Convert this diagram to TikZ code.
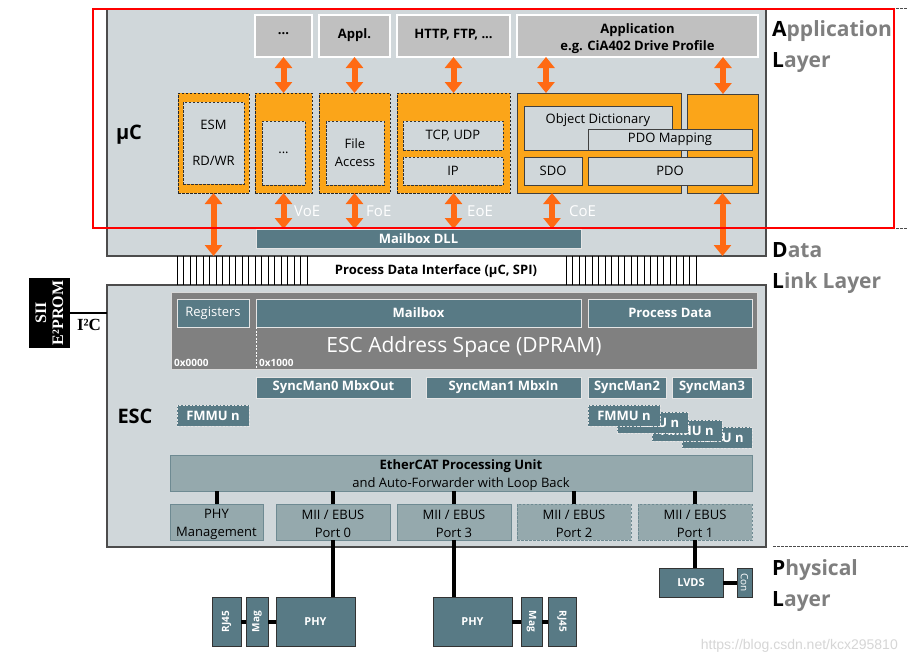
\documentclass[tikz,border=0pt]{standalone}
\usepackage{fontspec}
\setmainfont{Open Sans}
\newfontfamily\serifb{Liberation Serif}
\newfontfamily\wmfont{Liberation Sans}
\usetikzlibrary{arrows.meta}
\definecolor{panel}{HTML}{D0D7DA}
\definecolor{tealbox}{HTML}{587A85}
\definecolor{epufill}{HTML}{95A9AD}
\definecolor{epuline}{HTML}{6E8A92}
\definecolor{appgray}{HTML}{C0C0C0}
\definecolor{orfill}{HTML}{FBA519}
\definecolor{orarrow}{HTML}{FF6A13}
\definecolor{dpramgray}{HTML}{808080}
\definecolor{laygray}{HTML}{7F7F7F}
\definecolor{wmgray}{HTML}{D6D6D6}
\tikzset{
  box/.style={inner sep=0pt, outer sep=0pt, align=center},
  fa/.style={font=\fontsize{13pt}{16pt}\selectfont},
  fb/.style={font=\fontsize{13pt}{16pt}\selectfont\bfseries},
  appbox/.style={box, fill=appgray, draw=white, line width=1.2pt, fb},
  orgdash/.style={box, fill=orfill, draw=black!85, dash pattern=on 2.5pt off 1.5pt, line width=0.8pt},
  orgsolid/.style={box, fill=orfill, draw=black!75, line width=0.9pt},
  indash/.style={box, fill=panel, draw=black!80, dash pattern=on 2.5pt off 1.5pt, line width=0.8pt, fa},
  insolid/.style={box, fill=panel, draw=black!75, line width=0.9pt, fa},
  panelbox/.style={box, fill=panel, draw=black!70, line width=1.3pt},
  darkbox/.style={box, fill=tealbox, draw=white!90!black, line width=1pt, text=white, fb},
  fmmubox/.style={darkbox, dash pattern=on 2pt off 1.5pt},
  portbox/.style={box, fill=epufill, draw=epuline, line width=1pt, font=\fontsize{13pt}{18pt}\selectfont},
  hwbox/.style={box, fill=tealbox, draw=black!80, line width=0.9pt, text=white, font=\fontsize{11pt}{13pt}\selectfont\bfseries},
  hwsmall/.style={hwbox, font=\fontsize{10pt}{12pt}\selectfont\bfseries},
  oarr/.style={draw=orarrow, line width=6pt, arrows={Triangle[width=17pt,length=11pt]-Triangle[width=17pt,length=11pt]}},
  conn/.style={draw=black, line width=4pt},
  protolbl/.style={text=white, anchor=west, font=\fontsize{15pt}{18pt}\selectfont, inner sep=0pt},
  layerlbl/.style={anchor=west, align=left, text=laygray, inner sep=0pt, font=\fontsize{21pt}{31pt}\selectfont\bfseries},
  biglbl/.style={font=\fontsize{20pt}{24pt}\selectfont\bfseries},
  sep/.style={draw=black!70, dash pattern=on 2.5pt off 1.5pt, line width=0.8pt}
}
% \rbox[extra]{style}{x1}{y1}{x2}{y2}{name}{text}
\newcommand\rbox[8][]{%
  \pgfmathsetmacro\rbw{#5-#3}%
  \pgfmathsetmacro\rbh{#6-#4}%
  \pgfmathsetmacro\rbx{(#3+#5)/2}%
  \pgfmathsetmacro\rby{(#4+#6)/2}%
  \node[#2, minimum width=\rbw pt, minimum height=\rbh pt, #1] (#7) at (\rbx,\rby) {#8};}
\newcommand\lift[1]{\rule{0pt}{#1}}
\begin{document}
\begin{tikzpicture}[x=1pt,y=-1pt]
\useasboundingbox[fill=white] (0,0) rectangle (908,664);

% separators
\draw[sep] (768,8) -- (908,8);
\draw[sep] (768,228) -- (908,228);
\draw[sep] (773,546) -- (908,546);

% main panels
\rbox{panelbox}{107}{9}{766}{256}{uc}{}
\rbox{panelbox}{107}{285}{766}{547}{esc}{}
\node[biglbl] (uclbl) at (129,135) {µC};
\node[biglbl] (esclbl) at (135,416) {ESC};

% application row
\rbox[text depth=4pt]{appbox}{255}{15}{312}{57}{a1}{...}
\rbox[text depth=4pt]{appbox}{319}{15}{390}{57}{a2}{Appl.}
\rbox[text depth=4pt]{appbox}{397}{15}{510}{57}{a3}{HTTP, FTP, ...}
\rbox[font=\fontsize{13pt}{17pt}\selectfont\bfseries]{appbox}{517}{15}{758}{57}{a4}{\lift{16pt}Application\\e.g. CiA402 Drive Profile}

% protocol blocks
\rbox{orgdash}{178}{93}{249}{193}{esm}{}
\rbox{indash}{183}{102}{244}{184}{esmin}{ESM\\[20pt]RD/WR}
\rbox{orgdash}{255}{93}{312}{193}{voe}{}
\rbox{indash}{262}{121}{305}{185}{voein}{...}
\rbox{orgdash}{319}{93}{390}{193}{foe}{}
\rbox[font=\fontsize{13pt}{18pt}\selectfont]{indash}{326}{121}{384}{185}{foein}{File\\Access}
\rbox{orgdash}{397}{93}{510}{193}{eoe}{}
\rbox{indash}{403}{121}{503}{150}{tcp}{TCP, UDP}
\rbox{indash}{403}{157}{503}{185}{ip}{IP}
\rbox{orgsolid}{517}{93}{681}{193}{coe}{}
\rbox{orgsolid}{687}{94}{758}{193}{pdoblk}{}
\rbox{insolid}{524}{106}{672}{150}{od}{}
\node[fa, inner sep=0pt] (odtxt) at (598,120) {Object Dictionary};
\rbox{insolid}{588}{129}{752}{150}{pdom}{PDO Mapping}
\rbox{insolid}{524}{157}{582}{185}{sdo}{SDO}
\rbox{insolid}{588}{157}{752}{185}{pdo}{PDO}

% mailbox DLL
\rbox{darkbox}{256}{229}{581}{248}{mdll}{Mailbox DLL}

% arrows
\coordinate (cx1) at (546,0);
\coordinate (cx2) at (723,0);
\coordinate (cx3) at (552,0);
\draw[oarr] (a1.south) -- (voe.north);
\draw[oarr] (a2.south) -- (foe.north);
\draw[oarr] (a3.south) -- (eoe.north);
\draw[oarr] (a4.south -| cx1) -- (coe.north -| cx1);
\draw[oarr] (a4.south -| cx2) -- (pdoblk.north -| cx2);
\draw[oarr] (voe.south) -- (voe.south |- mdll.north);
\draw[oarr] (foe.south) -- (foe.south |- mdll.north);
\draw[oarr] (eoe.south) -- (eoe.south |- mdll.north);
\draw[oarr] (coe.south -| cx3) -- (mdll.north -| cx3);
\draw[oarr] (esm.south) -- (esm.south |- uc.south);
\draw[oarr] (pdoblk.south) -- (pdoblk.south |- uc.south);
\node[protolbl] (voel) at (294,211) {VoE};
\node[protolbl] (foel) at (366,211) {FoE};
\node[protolbl] (eoel) at (467,211) {EoE};
\node[protolbl] (coel) at (569,211) {CoE};

% process data interface
\foreach \i in {0,...,20} {
  \draw[line width=1pt] (177+\i*6.5,256) -- (177+\i*6.5,285);
  \draw[line width=1pt] (566+\i*6.5,256) -- (566+\i*6.5,285);
}
\node[fb] (pdi) at (436,271) {Process Data Interface (µC, SPI)};

% SII EEPROM
\node[box, fill=black, text=white, rotate=90, minimum width=70pt, minimum height=41pt,
      font=\serifb\bfseries\fontsize{16pt}{17pt}\selectfont] (sii) at (49.5,313) {SII\\E²PROM};
\draw[line width=1.3pt] (sii.south) -- (sii.south -| esc.west);
\node[font=\serifb\bfseries\fontsize{17pt}{19pt}\selectfont, inner sep=0pt] (i2c) at (89,325) {I²C};

% DPRAM
\rbox[draw=white!85!black, line width=1pt]{box, fill=dpramgray}{171}{292}{757}{369}{dpram}{}
\rbox[fa]{darkbox}{177}{299}{249}{327}{reg}{Registers}
\rbox{darkbox}{256}{299}{581}{327}{mbx}{Mailbox}
\rbox{darkbox}{588}{299}{752}{327}{pdat}{Process Data}
\draw[white, dash pattern=on 2pt off 1.5pt, line width=0.8pt] (mbx.south west) -- (mbx.south west |- dpram.south);
\node[text=white, font=\fontsize{21pt}{24pt}\selectfont] (eas) at (464,347) {ESC Address Space (DPRAM)};
\node[text=white, anchor=west, inner sep=0pt, font=\fontsize{10pt}{12pt}\selectfont\bfseries] (ad0) at (174,363) {0x0000};
\node[text=white, anchor=west, inner sep=0pt, font=\fontsize{10pt}{12pt}\selectfont\bfseries] (ad1) at (259,363) {0x1000};

% sync managers
\rbox[text depth=4pt]{darkbox}{256}{377}{411}{398}{sm0}{SyncMan0 MbxOut}
\rbox[text depth=4pt]{darkbox}{426}{377}{581}{398}{sm1}{SyncMan1 MbxIn}
\rbox[text depth=4pt]{darkbox}{588}{377}{666}{398}{sm2}{SyncMan2}
\rbox[text depth=4pt]{darkbox}{672}{377}{752}{398}{sm3}{SyncMan3}

% FMMUs
\rbox{fmmubox}{177}{405}{249}{426}{fm0}{FMMU n}
\rbox{fmmubox}{682}{427}{752}{448}{fm4}{FMMU n}
\rbox{fmmubox}{652}{420}{722}{441}{fm3}{FMMU n}
\rbox{fmmubox}{617}{412}{688}{433}{fm2}{FMMU n}
\rbox{fmmubox}{588}{405}{660}{426}{fm1}{FMMU n}

% processing unit and ports
\rbox{portbox}{170}{455}{752}{491}{epu}{\lift{14pt}\textbf{EtherCAT Processing Unit}\\and Auto-Forwarder with Loop Back}
\rbox{portbox}{170}{504}{263}{540}{pm}{\lift{14pt}PHY\\Management}
\rbox{portbox}{276}{504}{390}{540}{p0}{\lift{14pt}MII / EBUS\\Port 0}
\rbox{portbox}{397}{504}{511}{540}{p3}{\lift{14pt}MII / EBUS\\Port 3}
\rbox[dash pattern=on 2.5pt off 1.5pt]{portbox}{517}{504}{631}{540}{p2}{\lift{14pt}MII / EBUS\\Port 2}
\rbox[dash pattern=on 2.5pt off 1.5pt]{portbox}{638}{504}{752}{540}{p1}{\lift{14pt}MII / EBUS\\Port 1}
\draw[conn] (epu.south -| pm.north) -- (pm.north);
\draw[conn] (epu.south -| p0.north) -- (p0.north);
\draw[conn] (epu.south -| p3.north) -- (p3.north);
\draw[conn] (epu.south -| p2.north) -- (p2.north);
\draw[conn] (epu.south -| p1.north) -- (p1.north);

% physical layer hardware
\rbox{hwbox}{276}{597}{355}{646}{phyl}{PHY}
\node[hwsmall, rotate=90, minimum width=49pt, minimum height=22pt] (magl) at (257,621.5) {Mag};
\node[hwsmall, rotate=90, minimum width=49pt, minimum height=29pt] (rjl) at (226.5,621.5) {RJ45};
\rbox{hwbox}{433}{597}{512}{646}{phyr}{PHY}
\node[hwsmall, rotate=-90, minimum width=49pt, minimum height=21pt] (magr) at (531.5,621.5) {Mag};
\node[hwsmall, rotate=-90, minimum width=49pt, minimum height=28pt] (rjr) at (562,621.5) {RJ45};
\rbox{hwbox}{659}{568}{723}{597}{lvds}{LVDS}
\node[hwsmall, font=\fontsize{10pt}{12pt}\selectfont, rotate=-90, minimum width=29pt, minimum height=15pt] (con) at (744.5,582.5) {Con};
\draw[conn] (p0.south) -- (p0.south |- phyl.north);
\draw[conn] (p3.south) -- (p3.south |- phyr.north);
\draw[conn] (p1.south) -- (p1.south |- lvds.north);
\draw[conn] (rjl) -- (magl);
\draw[conn] (magl) -- (phyl);
\draw[conn] (phyr) -- (magr);
\draw[conn] (magr) -- (rjr);
\draw[conn] (lvds) -- (con);

% layer labels
\node[layerlbl] (lapp) at (772,47) {\textcolor{black}{A}pplication\\\textcolor{black}{L}ayer};
\node[layerlbl] (ldl) at (772,268) {\textcolor{black}{D}ata\\\textcolor{black}{L}ink Layer};
\node[layerlbl] (lph) at (772,586) {\textcolor{black}{P}hysical\\\textcolor{black}{L}ayer};

% red highlight
\rbox[draw=red, line width=2pt]{box}{93}{9}{894}{228}{redbox}{}

% watermark
\node[text=wmgray, anchor=east, inner sep=0pt, font=\wmfont\fontsize{14pt}{16pt}\selectfont] (wmk) at (898,646) {https://blog.csdn.net/kcx295810};
\end{tikzpicture}
\end{document}
